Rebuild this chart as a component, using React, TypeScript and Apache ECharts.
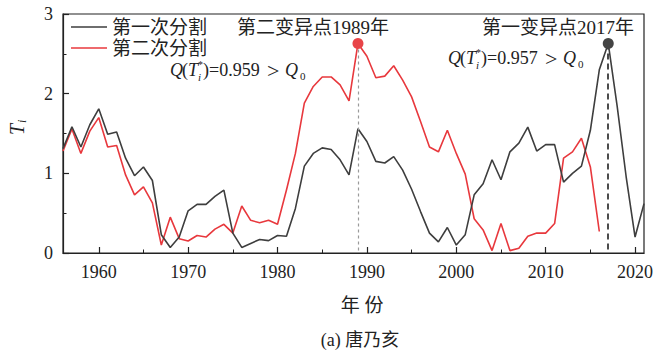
import { useEffect, useRef } from "react";
import * as echarts from "echarts";

const START_YEAR = 1956;
const firstSplit = [
  1.31, 1.585, 1.33, 1.61, 1.81, 1.49, 1.52, 1.19, 0.97, 1.08, 0.91, 0.23, 0.07, 0.2,
  0.53, 0.61, 0.61, 0.71, 0.79, 0.25, 0.07, 0.12, 0.17, 0.155, 0.22, 0.21, 0.56, 1.09,
  1.25, 1.32, 1.3, 1.17, 0.98, 1.56, 1.4, 1.15, 1.13, 1.21, 1.04, 0.8, 0.52, 0.25, 0.14,
  0.32, 0.1, 0.23, 0.73, 0.87, 1.17, 0.92, 1.27, 1.38, 1.58, 1.28, 1.36, 1.36, 0.89, 1.0,
  1.09, 1.54, 2.3, 2.63, 1.84, 0.96, 0.2, 0.62,
];
const secondSplit = [
  1.28, 1.556, 1.25, 1.53, 1.7, 1.33, 1.35, 0.98, 0.73, 0.83, 0.63, 0.1, 0.45, 0.18, 0.15,
  0.22, 0.2, 0.3, 0.36, 0.25, 0.59, 0.41, 0.38, 0.41, 0.36, 0.79, 1.25, 1.88, 2.09, 2.21,
  2.21, 2.11, 1.91, 2.63, 2.47, 2.2, 2.22, 2.35, 2.17, 1.96, 1.65, 1.33, 1.27, 1.54, 1.25,
  0.99, 0.43, 0.29, 0.03, 0.37, 0.03, 0.06, 0.21, 0.25, 0.25, 0.37, 1.19, 1.27, 1.44, 1.08,
  0.27,
];
const majorYears = [1960, 1970, 1980, 1990, 2000, 2010, 2020];
const minorYears = [1965, 1975, 1985, 1995, 2005, 2015];
const seriesNames = ["第一次分割", "第二次分割"];
const changePoint2 = { year: 1989, value: 2.63, label: "第二变异点1989年", q: "0.959" };
const changePoint1 = { year: 2017, value: 2.63, label: "第一变异点2017年", q: "0.957" };

const SERIF = '"Liberation Serif", "Times New Roman", serif';
const CJK = '"Liberation Serif", "Noto Sans CJK SC", serif';
const TXT = "#222";
const BLACK_LINE = "#3e3e3e";
const RED_LINE = "#e8383d";

function qText(x: number, y: number, q: string) {
  const t = (dx: number, dy: number, text: string, size: number, italic = false) => ({
    type: "text",
    x: x + dx,
    y: y + dy,
    style: {
      text,
      fontSize: size,
      fontFamily: SERIF,
      fontStyle: italic ? "italic" : "normal",
      fill: TXT,
      verticalAlign: "middle",
      align: "left",
    },
  });
  return [
    t(0, 0, "Q", 18, true),
    t(12, 0, "(", 18),
    t(18, 0, "T", 18, true),
    t(28, -6, "*", 10),
    t(28, 7, "i", 11, true),
    t(33, 0, ")=" + q, 18),
    t(97, 0, ">", 22),
    t(115, 0, "Q", 18, true),
    t(130, 6, "0", 11),
  ];
}

export default function App() {
  const ref = useRef<HTMLDivElement>(null);
  useEffect(() => {
    if (!ref.current) return;
    const chart = echarts.init(ref.current, null, { renderer: "svg" });
    const d1 = firstSplit.map((v, i) => [START_YEAR + i, v]);
    const d2 = secondSplit.map((v, i) => [START_YEAR + i, v]);
    chart.setOption({
      animation: false,
      grid: {
        left: 63,
        right: 13,
        top: 14,
        bottom: 101,
        show: true,
        borderColor: "#222",
        borderWidth: 1.2,
      },
      legend: {
        data: [
          { name: seriesNames[0], itemStyle: { color: BLACK_LINE } },
          { name: seriesNames[1], itemStyle: { color: RED_LINE } },
        ],
        orient: "vertical",
        left: 71,
        top: 17,
        padding: 0,
        icon: "rect",
        itemWidth: 36,
        itemHeight: 1.6,
        itemGap: 1,
        textStyle: { fontSize: 19, fontFamily: CJK, color: TXT, lineHeight: 20 },
      },
      xAxis: [
        {
          type: "value",
          min: 1956,
          max: 2021,
          axisLine: { show: true, lineStyle: { color: "#222", width: 1.2 } },
          axisTick: {
            show: true,
            inside: true,
            length: 6,
            customValues: majorYears,
            lineStyle: { color: "#222", width: 1.2 },
          },
          axisLabel: {
            customValues: majorYears,
            formatter: (v: number) => String(v),
            fontSize: 18,
            fontFamily: SERIF,
            color: TXT,
            margin: 10,
          },
          splitLine: { show: false },
        },
        {
          type: "value",
          min: 1956,
          max: 2021,
          position: "bottom",
          axisLine: { show: false },
          axisTick: {
            show: true,
            inside: true,
            length: 3.5,
            customValues: minorYears,
            lineStyle: { color: "#222", width: 1 },
          },
          axisLabel: { show: false },
          splitLine: { show: false },
        },
      ],
      yAxis: {
        type: "value",
        min: 0,
        max: 3,
        interval: 1,
        axisLine: { show: true, lineStyle: { color: "#222", width: 1.2 } },
        axisTick: { show: true, inside: true, length: 6, lineStyle: { color: "#222", width: 1.2 } },
        minorTick: { show: true, splitNumber: 2, length: 3.5, lineStyle: { color: "#222", width: 1 } },
        axisLabel: { fontSize: 18, fontFamily: SERIF, color: TXT, margin: 10 },
        splitLine: { show: false },
        minorSplitLine: { show: false },
      },
      series: [
        {
          name: seriesNames[0],
          type: "line",
          data: d1,
          symbol: "none",
          lineStyle: { color: BLACK_LINE, width: 1.6 },
          itemStyle: { color: BLACK_LINE },
          z: 3,
          markLine: {
            silent: true,
            symbol: ["none", "none"],
            label: { show: false },
            lineStyle: { color: "#111", type: [6, 4], width: 1.5 },
            data: [[{ coord: [changePoint1.year, changePoint1.value] }, { coord: [changePoint1.year, 0] }]],
          },
          markPoint: {
            symbol: "circle",
            symbolSize: 11,
            label: { show: false },
            itemStyle: { color: "#444" },
            data: [{ coord: [changePoint1.year, changePoint1.value] }],
          },
        },
        {
          name: seriesNames[1],
          type: "line",
          data: d2,
          symbol: "none",
          lineStyle: { color: RED_LINE, width: 1.6 },
          itemStyle: { color: RED_LINE },
          z: 2,
          markLine: {
            silent: true,
            symbol: ["none", "none"],
            label: { show: false },
            lineStyle: { color: "#9a9a9a", type: [3, 3], width: 1.2 },
            data: [[{ coord: [changePoint2.year, changePoint2.value] }, { coord: [changePoint2.year, 0] }]],
          },
          markPoint: {
            symbol: "circle",
            symbolSize: 11,
            label: { show: false },
            itemStyle: { color: "#e84448" },
            data: [{ coord: [changePoint2.year, changePoint2.value] }],
          },
        },
      ],
      graphic: [
        {
          type: "text",
          x: 237,
          y: 27,
          style: { text: changePoint2.label, fontSize: 19, fontFamily: CJK, fill: TXT, verticalAlign: "middle" },
        },
        {
          type: "text",
          x: 482,
          y: 27,
          style: { text: changePoint1.label, fontSize: 19, fontFamily: CJK, fill: TXT, verticalAlign: "middle" },
        },
        ...qText(170, 70, changePoint2.q),
        ...qText(448, 58, changePoint1.q),
        {
          type: "group",
          x: 17,
          y: 129,
          rotation: Math.PI / 2,
          children: [
            {
              type: "text",
              x: -6,
              y: 0,
              style: { text: "T", fontSize: 20, fontStyle: "italic", fontFamily: SERIF, fill: TXT, verticalAlign: "middle" },
            },
            {
              type: "text",
              x: 6,
              y: 5,
              style: { text: "i", fontSize: 12, fontStyle: "italic", fontFamily: SERIF, fill: TXT, verticalAlign: "middle" },
            },
          ],
        },
        {
          type: "text",
          x: 362,
          y: 305,
          style: { text: "年 份", fontSize: 19, fontFamily: CJK, fill: TXT, align: "center", verticalAlign: "middle" },
        },
        {
          type: "text",
          x: 360,
          y: 340,
          style: { text: "(a) 唐乃亥", fontSize: 18, fontFamily: CJK, fill: TXT, align: "center", verticalAlign: "middle" },
        },
      ],
    });
    return () => chart.dispose();
  }, []);
  return (
    <div
      ref={ref}
      style={{ position: "fixed", left: 0, top: 0, width: 657, height: 354, background: "#fff" }}
    />
  );
}
